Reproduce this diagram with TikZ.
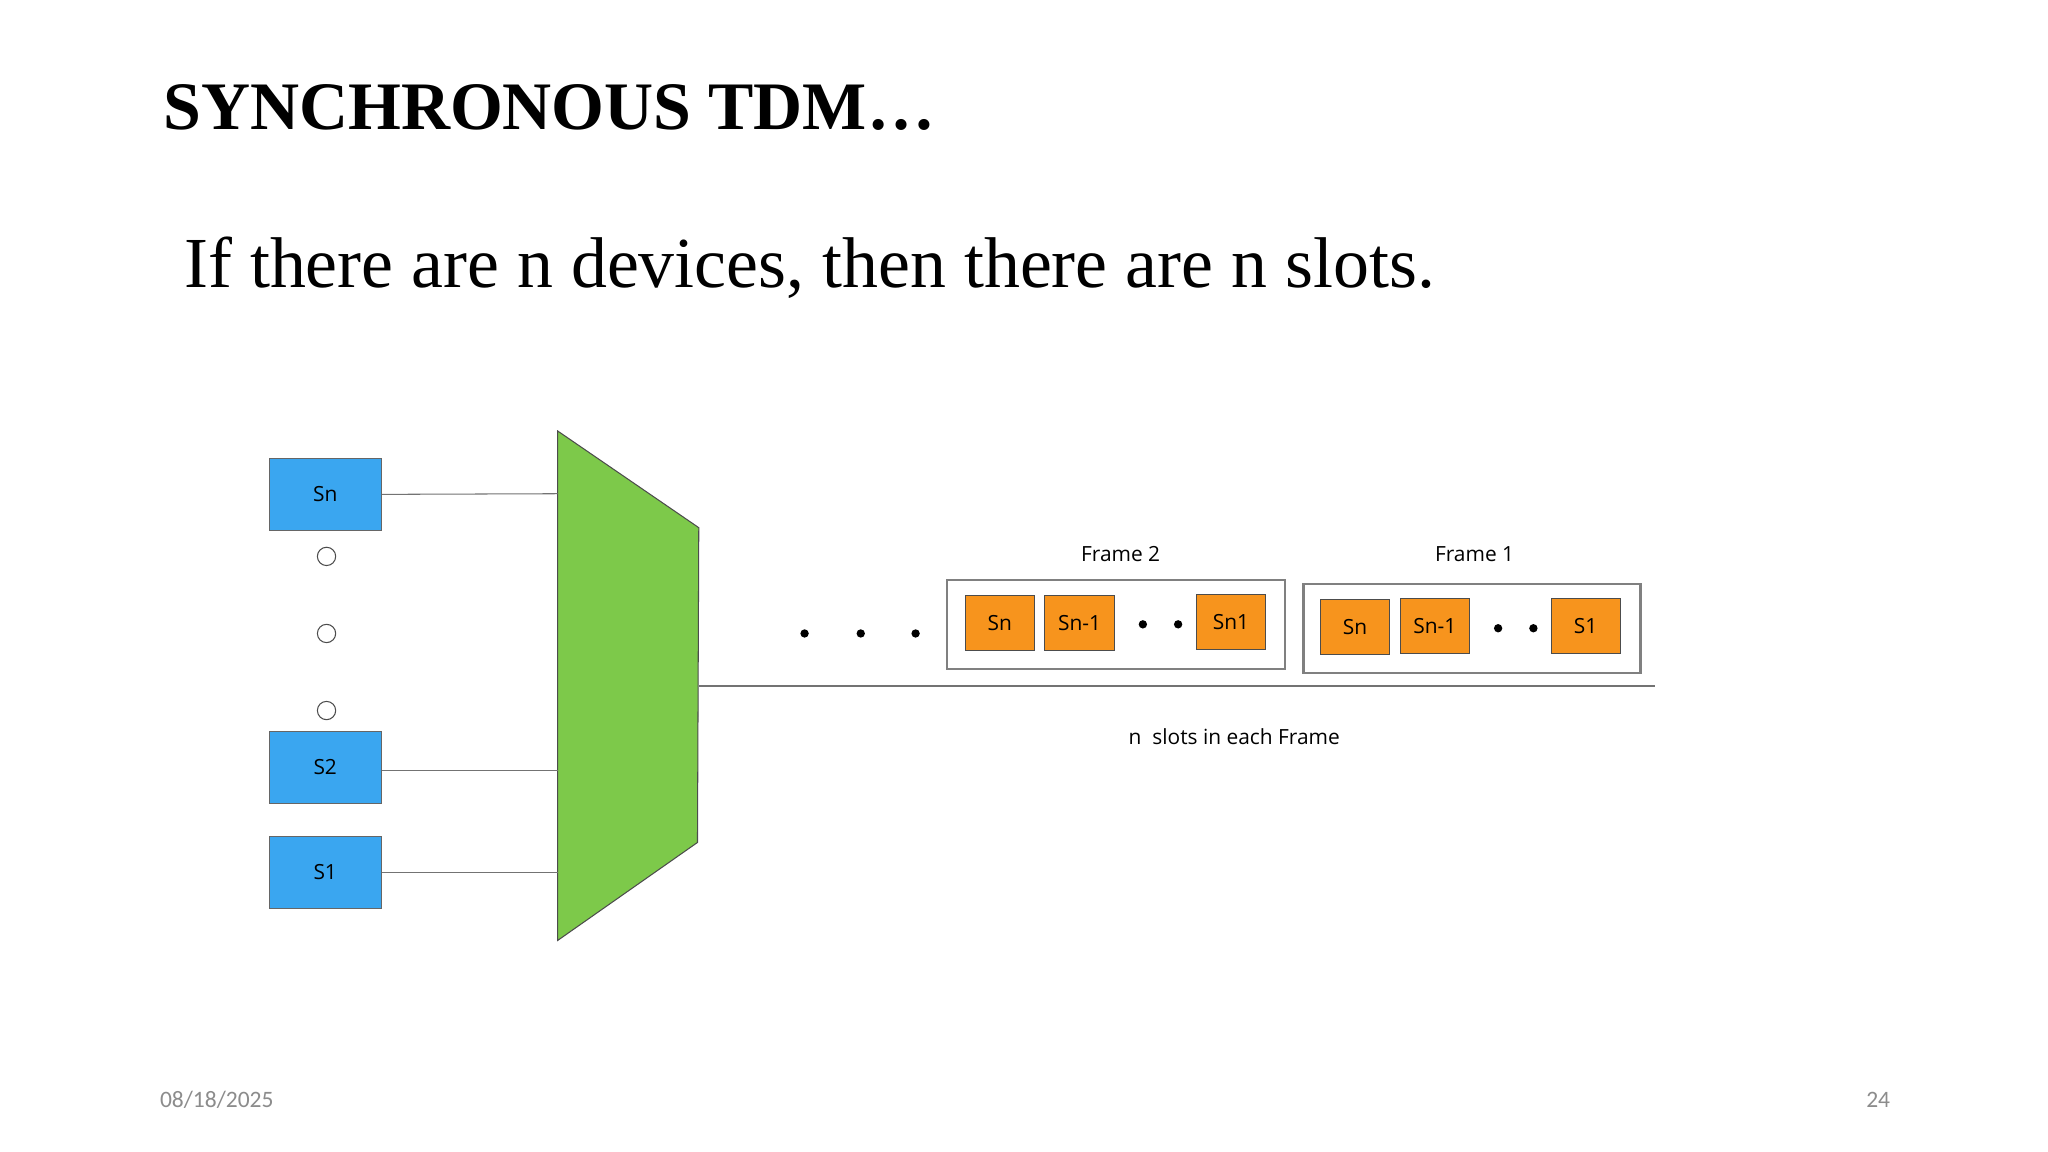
\documentclass[tikz,border=0pt]{standalone}
\usepackage{fontspec}
\setmainfont{Liberation Serif}
\newfontfamily\dfont{Open Sans}
\newfontfamily\cfont{Carlito}
\begin{document}
\begin{tikzpicture}[x=0.5pt,y=-0.5pt,
  src/.style={draw=black!60,fill={rgb,255:red,58;green,166;blue,240},minimum width=43pt,minimum height=27.5pt,inner sep=0pt,font=\dfont\fontsize{8}{9}\selectfont},
  slot/.style={draw=black!70,fill={rgb,255:red,247;green,148;blue,29},minimum width=26.5pt,minimum height=21pt,inner sep=0pt,font=\dfont\fontsize{8}{9}\selectfont},
  frm/.style={draw=black!50,thick,inner sep=0pt},
  ln/.style={draw=black!55},
  lbl/.style={font=\dfont\fontsize{8}{9}\selectfont}]
\useasboundingbox (0,0) rectangle (1568,882);
\fill[white] (0,0) rectangle (1568,882);
\node[anchor=west,font=\bfseries\fontsize{26}{30}\selectfont] (title) at (118,82) {SYNCHRONOUS TDM…};
\node[anchor=west,font=\fontsize{27.5}{32}\selectfont] (sub) at (134,205) {If there are n devices, then there are n slots.};
\node[src] (sn) at (249,378.5) {Sn};
\node[src] (s2) at (249,587.5) {S2};
\node[src] (s1) at (249,668) {S1};
\foreach \y/\n in {426/c1,485/c2,544/c3} \node[draw=black!70,circle,minimum size=7pt,inner sep=0pt] (\n) at (250,\y) {};
\draw[draw=black!70,fill={rgb,255:red,125;green,201;blue,74}] (427,330) -- (535,404) -- (534,645) -- (427,720) -- cycle;
\coordinate (m1) at (427,378); \coordinate (m2) at (427,590); \coordinate (m3) at (427,668);
\draw[ln] (sn.east) -- (m1); \draw[ln] (s2.east|-m2) -- (m2); \draw[ln] (s1.east) -- (m3);
\coordinate (o1) at (535,525); \coordinate (o2) at (1267,525);
\draw[ln,thick] (o1) -- (o2);
\foreach \x in {616,659,701} \fill (\x,485) circle (1.6pt);
\node[frm,minimum width=129.5pt,minimum height=34pt] (f2) at (854.5,478) {};
\node[lbl] (f2l) at (858,424) {Frame 2};
\node[slot] (a1) at (765.5,477) {Sn};
\node[slot] (a2) at (826.5,477) {Sn-1};
\node[slot] (a3) at (942.5,476) {Sn1};
\foreach \x in {875,902} \fill (\x,478) circle (1.6pt);
\node[frm,minimum width=129pt,minimum height=34pt] (f1) at (1127,481) {};
\node[lbl] (f1l) at (1129,424) {Frame 1};
\node[slot] (b1) at (1037.5,480) {Sn};
\node[slot] (b2) at (1098.5,479) {Sn-1};
\node[slot] (b3) at (1214,479) {S1};
\foreach \x in {1147,1174} \fill (\x,481) circle (1.6pt);
\node[lbl] (cap) at (945,564) {n\ \ slots in each Frame};
\node[font=\cfont\fontsize{9}{10}\selectfont,text=black!45] (date) at (166,842) {08/18/2025};
\node[font=\cfont\fontsize{9}{10}\selectfont,text=black!45] (pg) at (1438,842) {24};
\end{tikzpicture}
\end{document}
